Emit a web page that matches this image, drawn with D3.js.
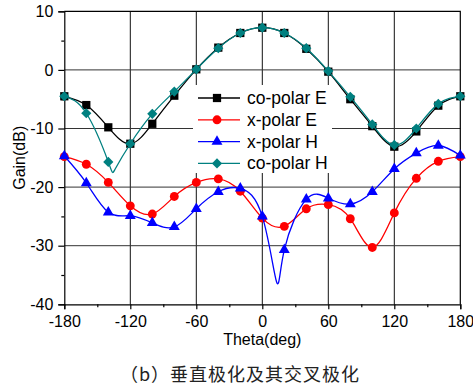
<!DOCTYPE html>
<html>
<head>
<meta charset="utf-8">
<script src="https://cdn.jsdelivr.net/npm/d3@7"></script>
<style>
    body {margin: 0; background: #fff;}
    svg {display: block; font-family: "Liberation Sans", Arial, sans-serif;}
</style>
</head>
<body>
<div id="chartDiv"></div>
<script>
//Values, one marker every 20 degrees
let theta = [-180, -160, -140, -120, -100, -80, -60, -40, -20, 0, 20, 40, 60, 80, 100, 120, 140, 160, 180];
let coPolarE = [-4.5, -6.0, -9.8, -12.6, -9.2, -4.4, 0.1, 3.8, 6.3, 7.2, 6.3, 3.6, -0.3, -5.0, -9.6, -13.1, -10.5, -6.1, -4.5];
let xPolarE = [-14.8, -16.1, -19.2, -23.2, -24.6, -21.6, -19.2, -18.6, -20.7, -25.3, -26.7, -23.7, -23.0, -25.4, -30.3, -24.4, -18.5, -15.6, -14.8];
let xPolarH = [-14.7, -19.3, -24.3, -24.9, -26.1, -26.8, -23.7, -20.8, -20.2, -25.0, -30.7, -22.1, -21.9, -22.9, -20.8, -16.9, -14.2, -12.9, -14.6];
let coPolarH = [-4.5, -7.4, -15.7, -12.6, -7.5, -3.7, 0.1, 3.7, 6.3, 7.2, 6.3, 3.7, -0.2, -4.6, -9.3, -12.8, -10.0, -5.8, -4.5];

//samples on the curves that carry no marker (the deep nulls)
let xPolarHNullTheta = [13];
let xPolarHNull = [-36.2];
let coPolarHNullTheta = [-134];
let coPolarHNull = [-17.0];

let seriesNames = ['co-polar E', 'x-polar E', 'x-polar H', 'co-polar H'];
let xTicks = [-180, -120, -60, 0, 60, 120, 180];
let xMinorTicks = [-150, -90, -30, 30, 90, 150];
let yTicks = [10, 0, -10, -20, -30, -40];
let yMinorTicks = [5, -5, -15, -25, -35];
let xLabel = 'Theta(deg)';
let yLabel = 'Gain(dB)';
let caption = '（b）垂直极化及其交叉极化';

let series = [
    {name: seriesNames[0], values: coPolarE, extraT: [], extraV: [], color: '#000000', symbol: 'square'},
    {name: seriesNames[1], values: xPolarE, extraT: [], extraV: [], color: '#ff0000', symbol: 'circle'},
    {name: seriesNames[2], values: xPolarH, extraT: xPolarHNullTheta, extraV: xPolarHNull, color: '#0000ff', symbol: 'triangle'},
    {name: seriesNames[3], values: coPolarH, extraT: coPolarHNullTheta, extraV: coPolarHNull, color: '#008080', symbol: 'diamond'}
];

let W = 473, H = 389;
let plot = {left: 64.3, right: 460.3, top: 11.3, bottom: 304.3};

let svg = d3.select('#chartDiv')
    .append('svg')
    .attr('width', W)
    .attr('height', H);

let xScale = d3.scaleLinear().domain([-180, 180]).range([plot.left, plot.right]);
let yScale = d3.scaleLinear().domain([-40, 10]).range([plot.bottom, plot.top]);

//grid lines at the major ticks
svg.append('g').selectAll('line')
    .data(xTicks.slice(1, -1))
    .enter().append('line')
    .attr('x1', function(d) {return xScale(d)})
    .attr('x2', function(d) {return xScale(d)})
    .attr('y1', plot.top).attr('y2', plot.bottom)
    .attr('stroke', '#111').attr('stroke-width', 1);

svg.append('g').selectAll('line')
    .data(yTicks.slice(1, -1))
    .enter().append('line')
    .attr('x1', plot.left).attr('x2', plot.right)
    .attr('y1', function(d) {return yScale(d)})
    .attr('y2', function(d) {return yScale(d)})
    .attr('stroke', '#333').attr('stroke-width', 1);

//axes
let fmt = function(d) {return String(d)};

svg.append('g')
    .attr('transform', 'translate(0,' + plot.bottom + ')')
    .call(d3.axisBottom(xScale).tickValues(xTicks).tickFormat(fmt).tickSize(5).tickPadding(6));
svg.append('g')
    .attr('transform', 'translate(0,' + plot.bottom + ')')
    .call(d3.axisBottom(xScale).tickValues(xMinorTicks).tickFormat('').tickSize(3))
    .select('.domain').remove();

svg.append('g')
    .attr('transform', 'translate(' + plot.left + ',0)')
    .call(d3.axisLeft(yScale).tickValues(yTicks).tickFormat(fmt).tickSize(6).tickPadding(5));
svg.append('g')
    .attr('transform', 'translate(' + plot.left + ',0)')
    .call(d3.axisLeft(yScale).tickValues(yMinorTicks).tickFormat('').tickSize(3))
    .select('.domain').remove();

svg.selectAll('.tick text')
    .attr('font-size', 16)
    .attr('font-family', '"Liberation Sans", Arial, sans-serif')
    .attr('fill', '#000');
svg.selectAll('.domain, .tick line').attr('stroke', '#000').attr('stroke-width', 1.2);

//frame on the top and right
svg.append('path')
    .attr('d', 'M' + plot.left + ',' + plot.top + 'H' + plot.right + 'V' + plot.bottom)
    .attr('fill', 'none').attr('stroke', '#000').attr('stroke-width', 1.2);

//curves and markers
let line = d3.line()
    .x(function(d) {return xScale(d[0])})
    .y(function(d) {return yScale(d[1])})
    .curve(d3.curveNatural);

let symbols = {
    square: {type: d3.symbolSquare, size: 68, rotate: 0},
    circle: {type: d3.symbolCircle, size: 62, rotate: 0},
    triangle: {type: d3.symbolTriangle, size: 52, rotate: 0},
    diamond: {type: d3.symbolSquare, size: 52, rotate: 45}
};

let symbolPath = function(name) {
    return d3.symbol().type(symbols[name].type).size(symbols[name].size)();
};

series.forEach(function(s) {
    let pts = theta.map(function(t, i) {return [t, s.values[i]]});
    s.extraT.forEach(function(t, i) {pts.push([t, s.extraV[i]])});
    pts.sort(function(a, b) {return a[0] - b[0]});

    svg.append('path')
        .attr('d', line(pts))
        .attr('fill', 'none')
        .attr('stroke', s.color)
        .attr('stroke-width', 1.3);

    svg.append('g').selectAll('path')
        .data(s.values)
        .enter().append('path')
        .attr('d', symbolPath(s.symbol))
        .attr('transform', function(d, i) {
            return 'translate(' + xScale(theta[i]) + ',' + yScale(d) + ') rotate(' + symbols[s.symbol].rotate + ')';
        })
        .attr('fill', s.color);
});

//legend with white background
let legend = svg.append('g').attr('transform', 'translate(193,85)');
legend.append('rect')
    .attr('width', 139).attr('height', 88)
    .attr('fill', '#fff');

let rows = legend.selectAll('g')
    .data(series)
    .enter().append('g')
    .attr('transform', function(d, i) {return 'translate(0,' + (13 + i * 21.8) + ')'});

rows.append('line')
    .attr('x1', 5).attr('x2', 47)
    .attr('stroke', function(d) {return d.color})
    .attr('stroke-width', 1.3);

rows.append('path')
    .attr('d', function(d) {return symbolPath(d.symbol)})
    .attr('transform', function(d) {return 'translate(24,0) rotate(' + symbols[d.symbol].rotate + ')'})
    .attr('fill', function(d) {return d.color});

rows.append('text')
    .attr('x', 54)
    .attr('y', 6)
    .attr('font-size', 17.5)
    .text(function(d) {return d.name});

//axis titles
svg.append('text')
    .attr('x', (plot.left + plot.right) / 2)
    .attr('y', 345)
    .attr('text-anchor', 'middle')
    .attr('font-size', 16)
    .text(xLabel);

svg.append('text')
    .attr('transform', 'translate(25,' + (plot.top + plot.bottom) / 2 + ') rotate(-90)')
    .attr('text-anchor', 'middle')
    .attr('font-size', 16)
    .text(yLabel);

svg.append('text')
    .attr('x', 240)
    .attr('y', 381)
    .attr('text-anchor', 'middle')
    .attr('font-size', 18)
    .attr('letter-spacing', 1)
    .attr('fill', '#222')
    .attr('font-family', '"Noto Sans CJK SC", sans-serif')
    .text(caption);
</script>
</body>
</html>
